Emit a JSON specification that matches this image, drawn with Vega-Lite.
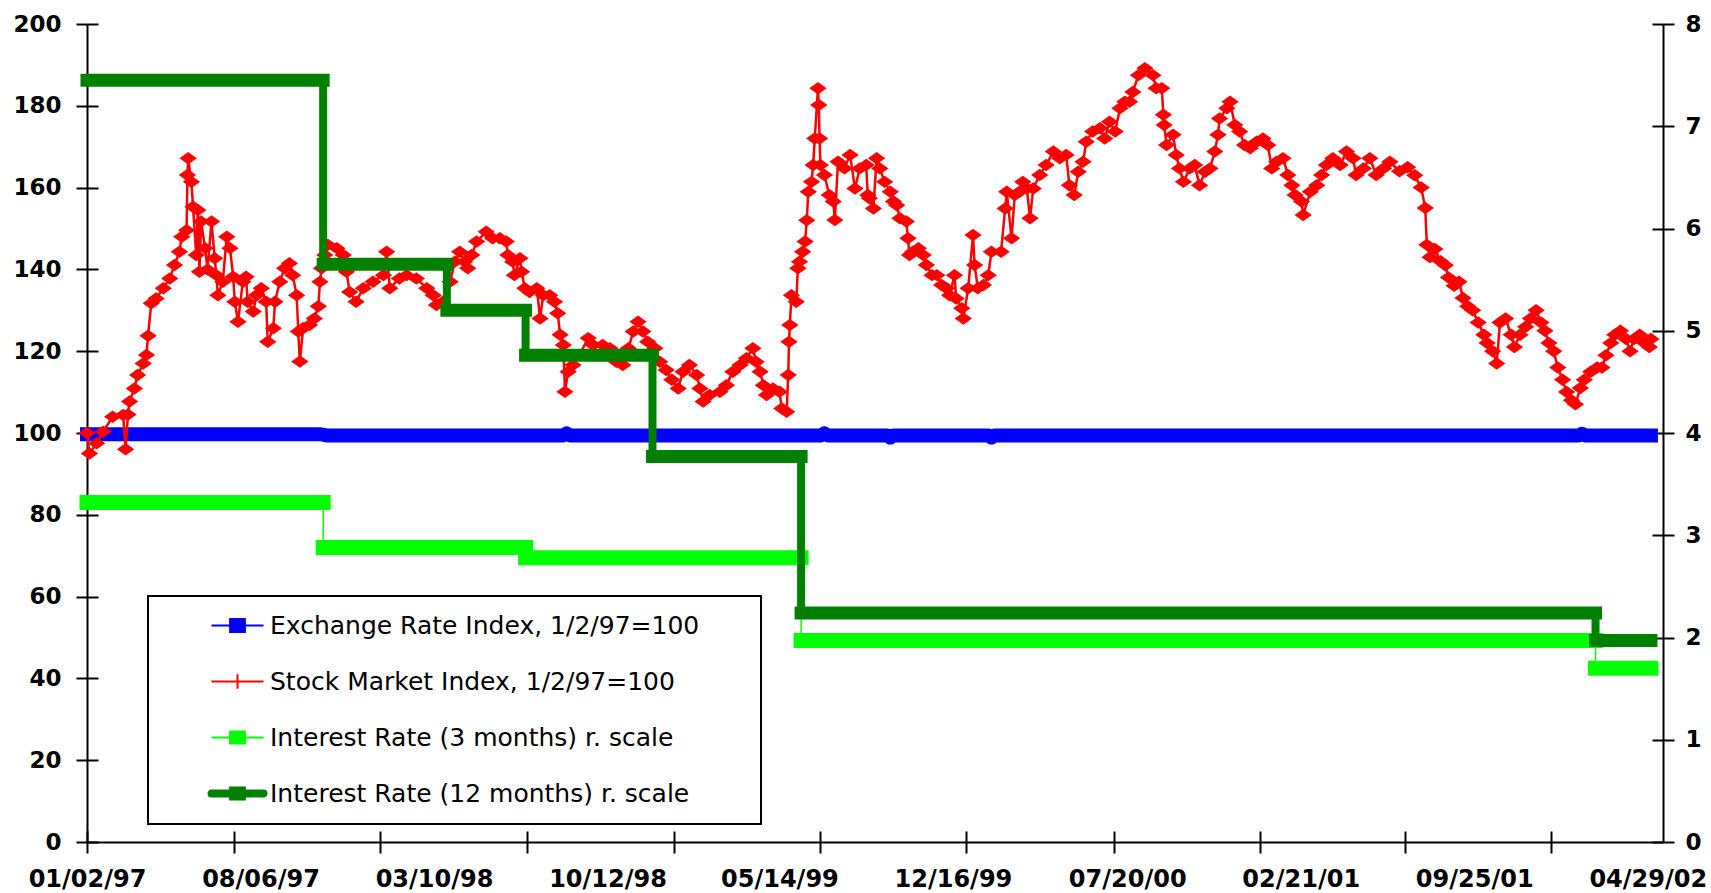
{
"$schema": "https://vega.github.io/schema/vega-lite/v6.json",
"width": 1576, "height": 818,
"autosize": {"type": "none"},
"padding": {"left": 87, "top": 24, "right": 48, "bottom": 51},
"background": "white",
"datasets": {
"fx": [{"date":"1997-01-02","value":99.7},{"date":"1997-10-20","value":99.7},{"date":"1997-10-27","value":99.4},{"date":"1998-08-18","value":99.4},{"date":"1998-08-22","value":99.9},{"date":"1998-08-26","value":99.4},{"date":"1999-07-05","value":99.4},{"date":"1999-07-09","value":99.9},{"date":"1999-07-13","value":99.4},{"date":"1999-09-25","value":99.4},{"date":"1999-09-29","value":98.9},{"date":"1999-10-03","value":99.4},{"date":"2000-01-29","value":99.4},{"date":"2000-02-02","value":98.9},{"date":"2000-02-06","value":99.4},{"date":"2002-02-02","value":99.4},{"date":"2002-02-06","value":99.8},{"date":"2002-02-10","value":99.4},{"date":"2002-05-03","value":99.4}],
"stock": [
{"date":"1997-01-02","value":100},{"date":"1997-01-05","value":95.0},{"date":"1997-01-14","value":97.5},{"date":"1997-01-22","value":100.3},{"date":"1997-02-03","value":104.0},{"date":"1997-02-16","value":104.4},{"date":"1997-02-19","value":96.0},{"date":"1997-02-22","value":104.5},{"date":"1997-02-24","value":107.7},{"date":"1997-03-02","value":110.9},{"date":"1997-03-06","value":114.2},{"date":"1997-03-13","value":117.0},{"date":"1997-03-17","value":119.1},{"date":"1997-03-19","value":123.8},{"date":"1997-03-23","value":131.7},{"date":"1997-03-29","value":132.9},{"date":"1997-04-07","value":135.4},{"date":"1997-04-15","value":137.8},{"date":"1997-04-21","value":141.1},{"date":"1997-04-27","value":144.3},{"date":"1997-04-30","value":148.0},{"date":"1997-05-06","value":149.6},{"date":"1997-05-07","value":163.1},{"date":"1997-05-08","value":167.2},{"date":"1997-05-12","value":161.4},{"date":"1997-05-14","value":155.3},{"date":"1997-05-18","value":143.5},{"date":"1997-05-20","value":154.5},{"date":"1997-05-22","value":139.4},{"date":"1997-05-24","value":151.7},{"date":"1997-05-29","value":145.2},{"date":"1997-06-01","value":140.0},{"date":"1997-06-06","value":151.7},{"date":"1997-06-10","value":142.7},{"date":"1997-06-12","value":138.6},{"date":"1997-06-14","value":133.7},{"date":"1997-06-20","value":137.0},{"date":"1997-06-25","value":148.0},{"date":"1997-06-29","value":145.2},{"date":"1997-07-03","value":138.2},{"date":"1997-07-05","value":132.1},{"date":"1997-07-09","value":127.2},{"date":"1997-07-15","value":137.0},{"date":"1997-07-19","value":138.2},{"date":"1997-07-21","value":132.1},{"date":"1997-07-28","value":129.7},{"date":"1997-08-01","value":133.7},{"date":"1997-08-07","value":135.4},{"date":"1997-08-13","value":132.1},{"date":"1997-08-15","value":122.3},{"date":"1997-08-22","value":125.6},{"date":"1997-08-24","value":132.1},{"date":"1997-08-30","value":137.0},{"date":"1997-09-05","value":140.3},{"date":"1997-09-11","value":141.5},{"date":"1997-09-15","value":138.6},{"date":"1997-09-20","value":133.7},{"date":"1997-09-22","value":124.8},{"date":"1997-09-24","value":117.5},{"date":"1997-09-28","value":125.6},{"date":"1997-10-06","value":126.4},{"date":"1997-10-12","value":128.0},{"date":"1997-10-17","value":131.0},{"date":"1997-10-19","value":137.0},{"date":"1997-10-21","value":140.3},{"date":"1997-10-25","value":143.5},{"date":"1997-10-29","value":146.0},{"date":"1997-11-09","value":145.2},{"date":"1997-11-17","value":143.5},{"date":"1997-11-21","value":139.4},{"date":"1997-11-25","value":134.5},{"date":"1997-12-03","value":132.1},{"date":"1997-12-12","value":135.4},{"date":"1997-12-24","value":137.0},
{"date":"1998-01-06","value":138.6},{"date":"1998-01-10","value":144.3},{"date":"1998-01-14","value":135.4},{"date":"1998-01-26","value":137.8},{"date":"1998-02-04","value":138.6},{"date":"1998-02-16","value":137.8},{"date":"1998-03-01","value":135.4},{"date":"1998-03-09","value":133.7},{"date":"1998-03-13","value":131.3},{"date":"1998-03-21","value":132.1},{"date":"1998-03-30","value":137.0},{"date":"1998-04-05","value":141.9},{"date":"1998-04-11","value":144.3},{"date":"1998-04-17","value":141.9},{"date":"1998-04-21","value":140.3},{"date":"1998-04-26","value":143.5},{"date":"1998-05-02","value":146.8},{"date":"1998-05-14","value":149.2},{"date":"1998-05-22","value":147.6},{"date":"1998-05-31","value":147.6},{"date":"1998-06-08","value":146.8},{"date":"1998-06-10","value":143.5},{"date":"1998-06-16","value":141.9},{"date":"1998-06-18","value":138.6},{"date":"1998-06-25","value":142.7},{"date":"1998-06-27","value":139.4},{"date":"1998-07-01","value":135.4},{"date":"1998-07-07","value":134.5},{"date":"1998-07-16","value":135.4},{"date":"1998-07-20","value":128.0},{"date":"1998-07-24","value":133.7},{"date":"1998-08-01","value":133.7},{"date":"1998-08-07","value":132.1},{"date":"1998-08-11","value":129.3},{"date":"1998-08-14","value":124.0},{"date":"1998-08-18","value":121.5},{"date":"1998-08-20","value":110.1},{"date":"1998-08-24","value":115.0},{"date":"1998-08-30","value":116.6},{"date":"1998-09-07","value":119.1},{"date":"1998-09-18","value":123.2},{"date":"1998-09-24","value":121.5},{"date":"1998-10-06","value":121.5},{"date":"1998-10-15","value":120.7},{"date":"1998-10-23","value":117.4},{"date":"1998-10-31","value":116.6},{"date":"1998-11-07","value":120.7},{"date":"1998-11-13","value":124.8},{"date":"1998-11-19","value":127.2},{"date":"1998-11-25","value":124.8},{"date":"1998-12-01","value":122.3},{"date":"1998-12-10","value":120.7},{"date":"1998-12-16","value":117.4},{"date":"1998-12-24","value":115.4},{"date":"1998-12-31","value":113.0},
{"date":"1999-01-08","value":110.9},{"date":"1999-01-14","value":115.0},{"date":"1999-01-22","value":116.6},{"date":"1999-01-31","value":114.2},{"date":"1999-02-04","value":110.9},{"date":"1999-02-08","value":107.7},{"date":"1999-02-16","value":109.3},{"date":"1999-03-01","value":110.1},{"date":"1999-03-09","value":111.7},{"date":"1999-03-17","value":115.0},{"date":"1999-03-26","value":116.6},{"date":"1999-04-03","value":118.3},{"date":"1999-04-11","value":120.7},{"date":"1999-04-15","value":117.4},{"date":"1999-04-20","value":115.0},{"date":"1999-04-24","value":111.7},{"date":"1999-04-28","value":109.3},{"date":"1999-05-06","value":110.9},{"date":"1999-05-14","value":110.1},{"date":"1999-05-17","value":106.0},{"date":"1999-05-23","value":105.2},{"date":"1999-05-25","value":114.2},{"date":"1999-05-26","value":122.3},{"date":"1999-05-27","value":126.4},{"date":"1999-05-29","value":133.7},{"date":"1999-06-04","value":132.1},{"date":"1999-06-06","value":140.3},{"date":"1999-06-08","value":141.9},{"date":"1999-06-12","value":144.3},{"date":"1999-06-15","value":146.8},{"date":"1999-06-17","value":152.0},{"date":"1999-06-19","value":159.0},{"date":"1999-06-23","value":161.4},{"date":"1999-06-25","value":165.5},{"date":"1999-06-27","value":172.0},{"date":"1999-07-01","value":184.3},{"date":"1999-07-02","value":180.2},{"date":"1999-07-03","value":172.0},{"date":"1999-07-04","value":165.5},{"date":"1999-07-09","value":163.1},{"date":"1999-07-15","value":158.2},{"date":"1999-07-20","value":156.6},{"date":"1999-07-22","value":152.1},{"date":"1999-07-26","value":166.3},{"date":"1999-08-03","value":164.7},{"date":"1999-08-10","value":168.0},{"date":"1999-08-16","value":159.8},{"date":"1999-08-22","value":164.7},{"date":"1999-08-30","value":165.5},{"date":"1999-09-01","value":158.2},{"date":"1999-09-03","value":157.4},{"date":"1999-09-08","value":154.9},{"date":"1999-09-12","value":167.2},{"date":"1999-09-16","value":164.7},{"date":"1999-09-22","value":161.4},{"date":"1999-09-29","value":159.0},{"date":"1999-10-03","value":156.6},{"date":"1999-10-07","value":155.7},{"date":"1999-10-11","value":152.5},{"date":"1999-10-19","value":151.7},{"date":"1999-10-21","value":147.6},{"date":"1999-10-23","value":143.5},{"date":"1999-10-27","value":144.3},{"date":"1999-11-03","value":145.2},{"date":"1999-11-09","value":143.5},{"date":"1999-11-13","value":141.1},{"date":"1999-11-20","value":138.6},{"date":"1999-11-26","value":138.6},{"date":"1999-12-02","value":136.2},{"date":"1999-12-08","value":135.4},{"date":"1999-12-12","value":133.7},{"date":"1999-12-18","value":138.6},{"date":"1999-12-20","value":132.9},{"date":"1999-12-27","value":130.5},{"date":"1999-12-29","value":128.0},
{"date":"2000-01-04","value":135.4},{"date":"2000-01-10","value":148.4},{"date":"2000-01-12","value":141.1},{"date":"2000-01-16","value":135.4},{"date":"2000-01-23","value":136.2},{"date":"2000-01-29","value":138.6},{"date":"2000-02-02","value":144.3},{"date":"2000-02-14","value":144.3},{"date":"2000-02-19","value":154.9},{"date":"2000-02-21","value":159.0},{"date":"2000-02-27","value":147.6},{"date":"2000-03-02","value":158.2},{"date":"2000-03-08","value":159.0},{"date":"2000-03-12","value":161.4},{"date":"2000-03-17","value":159.8},{"date":"2000-03-21","value":152.5},{"date":"2000-03-25","value":159.8},{"date":"2000-04-02","value":163.1},{"date":"2000-04-10","value":165.5},{"date":"2000-04-19","value":168.8},{"date":"2000-04-27","value":167.2},{"date":"2000-05-05","value":168.0},{"date":"2000-05-09","value":160.6},{"date":"2000-05-15","value":158.2},{"date":"2000-05-20","value":163.9},{"date":"2000-05-26","value":166.3},{"date":"2000-05-30","value":171.2},{"date":"2000-06-07","value":173.7},{"date":"2000-06-16","value":174.5},{"date":"2000-06-22","value":172.0},{"date":"2000-06-28","value":176.1},{"date":"2000-07-05","value":173.7},{"date":"2000-07-11","value":179.4},{"date":"2000-07-17","value":181.0},{"date":"2000-07-23","value":181.0},{"date":"2000-07-27","value":183.4},{"date":"2000-08-03","value":187.5},{"date":"2000-08-11","value":189.2},{"date":"2000-08-21","value":187.5},{"date":"2000-08-25","value":184.3},{"date":"2000-09-01","value":184.3},{"date":"2000-09-03","value":177.8},{"date":"2000-09-04","value":175.3},{"date":"2000-09-07","value":170.4},{"date":"2000-09-15","value":172.9},{"date":"2000-09-19","value":168.0},{"date":"2000-09-23","value":164.7},{"date":"2000-09-28","value":161.4},{"date":"2000-10-06","value":164.7},{"date":"2000-10-12","value":165.5},{"date":"2000-10-18","value":160.6},{"date":"2000-10-25","value":163.9},{"date":"2000-10-31","value":164.7},{"date":"2000-11-06","value":168.8},{"date":"2000-11-10","value":172.9},{"date":"2000-11-12","value":176.9},{"date":"2000-11-21","value":179.4},{"date":"2000-11-25","value":181.0},{"date":"2000-12-01","value":175.3},{"date":"2000-12-07","value":173.7},{"date":"2000-12-13","value":170.4},{"date":"2000-12-20","value":169.6},{"date":"2000-12-28","value":171.2},
{"date":"2001-01-05","value":172.0},{"date":"2001-01-11","value":170.4},{"date":"2001-01-16","value":164.7},{"date":"2001-01-22","value":166.3},{"date":"2001-01-30","value":167.2},{"date":"2001-02-05","value":163.1},{"date":"2001-02-10","value":160.6},{"date":"2001-02-14","value":158.2},{"date":"2001-02-22","value":156.6},{"date":"2001-02-24","value":153.3},{"date":"2001-03-05","value":159.0},{"date":"2001-03-13","value":160.6},{"date":"2001-03-19","value":163.1},{"date":"2001-03-25","value":165.5},{"date":"2001-04-02","value":167.2},{"date":"2001-04-11","value":165.5},{"date":"2001-04-19","value":168.8},{"date":"2001-04-27","value":167.2},{"date":"2001-05-01","value":163.1},{"date":"2001-05-10","value":164.7},{"date":"2001-05-18","value":167.2},{"date":"2001-05-26","value":163.1},{"date":"2001-06-04","value":164.7},{"date":"2001-06-12","value":166.3},{"date":"2001-06-24","value":164.0},{"date":"2001-07-04","value":165.0},{"date":"2001-07-13","value":163.0},{"date":"2001-07-21","value":160.0},{"date":"2001-07-26","value":155.0},{"date":"2001-07-28","value":146.0},{"date":"2001-08-01","value":143.0},{"date":"2001-08-07","value":145.0},{"date":"2001-08-14","value":142.0},{"date":"2001-08-20","value":141.0},{"date":"2001-08-24","value":138.0},{"date":"2001-08-31","value":136.0},{"date":"2001-09-06","value":137.0},{"date":"2001-09-11","value":133.0},{"date":"2001-09-17","value":131.0},{"date":"2001-09-23","value":130.0},{"date":"2001-09-30","value":127.0},{"date":"2001-10-07","value":124.0},{"date":"2001-10-11","value":122.0},{"date":"2001-10-18","value":120.0},{"date":"2001-10-23","value":117.0},{"date":"2001-10-27","value":127.0},{"date":"2001-11-03","value":128.0},{"date":"2001-11-10","value":124.0},{"date":"2001-11-14","value":121.0},{"date":"2001-11-21","value":124.0},{"date":"2001-11-28","value":126.0},{"date":"2001-12-04","value":128.0},{"date":"2001-12-11","value":130.0},{"date":"2001-12-17","value":127.0},{"date":"2001-12-22","value":125.0},{"date":"2001-12-27","value":122.0},
{"date":"2002-01-02","value":120.0},{"date":"2002-01-07","value":116.0},{"date":"2002-01-13","value":113.0},{"date":"2002-01-18","value":110.0},{"date":"2002-01-24","value":108.0},{"date":"2002-01-29","value":107.0},{"date":"2002-02-04","value":111.0},{"date":"2002-02-09","value":113.0},{"date":"2002-02-17","value":115.0},{"date":"2002-02-25","value":116.0},{"date":"2002-03-03","value":116.0},{"date":"2002-03-08","value":119.0},{"date":"2002-03-14","value":122.0},{"date":"2002-03-19","value":124.0},{"date":"2002-03-26","value":125.0},{"date":"2002-04-02","value":123.0},{"date":"2002-04-07","value":120.0},{"date":"2002-04-12","value":123.0},{"date":"2002-04-19","value":124.0},{"date":"2002-04-25","value":122.0},{"date":"2002-05-01","value":121.0},{"date":"2002-05-03","value":123.0}
],
"rates": [
{"series":"Interest Rate (3 months) r. scale","start":"1997-01-02","end":"1997-10-23","rate":3.32,"prev":null},
{"series":"Interest Rate (3 months) r. scale","start":"1997-10-23","end":"1998-07-02","rate":2.88,"prev":3.32},
{"series":"Interest Rate (3 months) r. scale","start":"1998-07-02","end":"1999-06-10","rate":2.78,"prev":2.88},
{"series":"Interest Rate (3 months) r. scale","start":"1999-06-10","end":"2002-02-23","rate":1.97,"prev":2.78},
{"series":"Interest Rate (3 months) r. scale","start":"2002-02-23","end":"2002-05-03","rate":1.70,"prev":1.97},
{"series":"Interest Rate (12 months) r. scale","start":"1997-01-02","end":"1997-10-23","rate":7.45,"prev":null},
{"series":"Interest Rate (12 months) r. scale","start":"1997-10-23","end":"1998-03-26","rate":5.65,"prev":7.45},
{"series":"Interest Rate (12 months) r. scale","start":"1998-03-26","end":"1998-07-02","rate":5.20,"prev":5.65},
{"series":"Interest Rate (12 months) r. scale","start":"1998-07-02","end":"1998-12-07","rate":4.76,"prev":5.20},
{"series":"Interest Rate (12 months) r. scale","start":"1998-12-07","end":"1999-06-10","rate":3.77,"prev":4.76},
{"series":"Interest Rate (12 months) r. scale","start":"1999-06-10","end":"2002-02-23","rate":2.24,"prev":3.77},
{"series":"Interest Rate (12 months) r. scale","start":"2002-02-23","end":"2002-05-03","rate":1.97,"prev":2.24}
]
},
"layer": [
{
"data": {"name": "fx"},
"mark": {"type": "line", "strokeWidth": 14, "strokeCap": "square", "strokeJoin": "round"},
"encoding": {
"x": {"field": "date", "type": "temporal", "scale": {"type": "utc", "nice": false, "domain": [{"year":1997,"month":1,"date":2,"utc":true},{"year":2002,"month":5,"date":18,"utc":true}]},
 "axis": {"orient": "bottom", "values": [{"year":1997,"month":1,"date":2,"utc":true},{"year":1997,"month":8,"date":6,"utc":true},{"year":1998,"month":3,"date":10,"utc":true},{"year":1998,"month":10,"date":12,"utc":true},{"year":1999,"month":5,"date":14,"utc":true},{"year":1999,"month":12,"date":16,"utc":true},{"year":2000,"month":7,"date":20,"utc":true},{"year":2001,"month":2,"date":21,"utc":true},{"year":2001,"month":9,"date":25,"utc":true},{"year":2002,"month":4,"date":29,"utc":true}],
  "domain": false, "tickOpacity": 0, "labelExpr": "utcFormat(datum.value, '%m/%d/%y')", "labelFontSize": 24, "labelPadding": 14}},
"y": {"field": "value", "type": "quantitative", "scale": {"domain": [0, 200], "nice": false, "zero": false},
 "axis": {"orient": "left", "values": [0,20,40,60,80,100,120,140,160,180,200], "labelPadding": 15}},
"color": {"datum": "Exchange Rate Index, 1/2/97=100",
 "scale": {"domain": ["Exchange Rate Index, 1/2/97=100","Stock Market Index, 1/2/97=100","Interest Rate (3 months) r. scale","Interest Rate (12 months) r. scale"], "range": ["#0000FF","#FF0000","#00FF00","#008000"]},
 "legend": {"orient": "none", "legendX": 61, "legendY": 572, "direction": "vertical", "title": null,
  "padding": 17, "rowPadding": 30, "symbolSize": 484, "symbolStrokeWidth": 2, "symbolOffset": 60, "labelOffset": 20,
  "labelFont": "DejaVu Sans", "labelFontSize": 25, "labelFontWeight": "normal", "labelColor": "#000", "labelLimit": 2000,
  "strokeColor": "#000", "fillColor": "#FFF",
  "labelExpr": "datum.label + '\u00a0\u00a0\u00a0\u00a0\u00a0\u2009\u200b'",
  "encode": {
   "legend": {"update": {"strokeWidth": {"value": 2}}},
   "symbols": {"update": {
    "shape": {"signal": "datum.value === 'Exchange Rate Index, 1/2/97=100' ? 'M-2.364,0H2.364M-0.673,-0.6H0.673V0.6H-0.673Z' : datum.value === 'Stock Market Index, 1/2/97=100' ? 'M-2.364,0H2.364M0,-0.65V0.65' : datum.value === 'Interest Rate (3 months) r. scale' ? 'M-2.364,0H2.364M-0.673,-0.536H0.673V0.536H-0.673Z' : 'M-2.364,-0.273H2.364A0.273,0.273,0,0,1,2.364,0.273H-2.364A0.273,0.273,0,0,1,-2.364,-0.273ZM-0.673,-0.536H0.673V0.536H-0.673Z'"},
    "fill": {"signal": "scale('color', datum.value)"},
    "stroke": {"signal": "scale('color', datum.value)"},
    "strokeWidth": {"value": 2},
    "opacity": {"value": 1}, "fillOpacity": {"value": 1}, "strokeOpacity": {"value": 1}
   }}
  }
 }
}
}
},
{
"data": {"name": "stock"},
"mark": {"type": "line", "strokeWidth": 2.5, "strokeJoin": "round"},
"encoding": {
"x": {"field": "date", "type": "temporal", "scale": {"type": "utc", "nice": false, "domain": [{"year":1997,"month":1,"date":2,"utc":true},{"year":2002,"month":5,"date":18,"utc":true}]},
 "axis": {"orient": "bottom", "labels": false, "values": [{"year":1997,"month":1,"date":2,"utc":true},{"year":1997,"month":7,"date":4,"utc":true},{"year":1998,"month":1,"date":2,"utc":true},{"year":1998,"month":7,"date":4,"utc":true},{"year":1999,"month":1,"date":3,"utc":true},{"year":1999,"month":7,"date":3,"utc":true},{"year":2000,"month":1,"date":1,"utc":true},{"year":2000,"month":7,"date":3,"utc":true},{"year":2001,"month":1,"date":1,"utc":true},{"year":2001,"month":7,"date":1,"utc":true},{"year":2001,"month":12,"date":30,"utc":true}]}},
"y": {"field": "value", "type": "quantitative", "scale": {"domain": [0, 200], "nice": false, "zero": false},
 "axis": {"orient": "left", "offset": -11, "domain": false, "labels": false, "values": [0,20,40,60,80,100,120,140,160,180,200]}},
"color": {"datum": "Stock Market Index, 1/2/97=100",
 "scale": {"domain": ["Exchange Rate Index, 1/2/97=100","Stock Market Index, 1/2/97=100","Interest Rate (3 months) r. scale","Interest Rate (12 months) r. scale"], "range": ["#0000FF","#FF0000","#00FF00","#008000"]}, "legend": null}
}
},
{
"data": {"name": "stock"},
"mark": {"type": "point", "shape": "M-1,0L0,-0.72L1,0L0,0.72Z", "size": 300, "filled": true, "opacity": 1},
"encoding": {
"x": {"field": "date", "type": "temporal", "scale": {"type": "utc", "nice": false, "domain": [{"year":1997,"month":1,"date":2,"utc":true},{"year":2002,"month":5,"date":18,"utc":true}]},
 "axis": {"orient": "bottom", "offset": -11, "domain": false, "labels": false, "values": [{"year":1997,"month":1,"date":2,"utc":true},{"year":1997,"month":7,"date":4,"utc":true},{"year":1998,"month":1,"date":2,"utc":true},{"year":1998,"month":7,"date":4,"utc":true},{"year":1999,"month":1,"date":3,"utc":true},{"year":1999,"month":7,"date":3,"utc":true},{"year":2000,"month":1,"date":1,"utc":true},{"year":2000,"month":7,"date":3,"utc":true},{"year":2001,"month":1,"date":1,"utc":true},{"year":2001,"month":7,"date":1,"utc":true},{"year":2001,"month":12,"date":30,"utc":true}]}},
"y": {"field": "value", "type": "quantitative", "scale": {"domain": [0, 200], "nice": false, "zero": false}, "axis": null},
"color": {"datum": "Stock Market Index, 1/2/97=100",
 "scale": {"domain": ["Exchange Rate Index, 1/2/97=100","Stock Market Index, 1/2/97=100","Interest Rate (3 months) r. scale","Interest Rate (12 months) r. scale"], "range": ["#0000FF","#FF0000","#00FF00","#008000"]}, "legend": null}
}
},
{
"data": {"name": "rates"},
"transform": [{"filter": "datum.series === 'Interest Rate (3 months) r. scale' && datum.prev != null"}],
"mark": {"type": "rule", "strokeWidth": 1.5},
"encoding": {
"x": {"field": "start", "type": "temporal", "scale": {"type": "utc", "nice": false, "domain": [{"year":1997,"month":1,"date":2,"utc":true},{"year":2002,"month":5,"date":18,"utc":true}]}, "axis": null},
"y": {"field": "prev", "type": "quantitative", "scale": {"domain": [0, 8], "nice": false, "zero": false},
 "axis": {"orient": "right", "values": [0,1,2,3,4,5,6,7,8], "labelPadding": 11}},
"y2": {"field": "rate"},
"color": {"field": "series", "type": "nominal",
 "scale": {"domain": ["Exchange Rate Index, 1/2/97=100","Stock Market Index, 1/2/97=100","Interest Rate (3 months) r. scale","Interest Rate (12 months) r. scale"], "range": ["#0000FF","#FF0000","#00FF00","#008000"]}, "legend": null}
}
},
{
"data": {"name": "rates"},
"transform": [{"filter": "datum.series === 'Interest Rate (3 months) r. scale'"}],
"mark": {"type": "rule", "strokeWidth": 15, "strokeCap": "square"},
"encoding": {
"x": {"field": "start", "type": "temporal", "scale": {"type": "utc", "nice": false, "domain": [{"year":1997,"month":1,"date":2,"utc":true},{"year":2002,"month":5,"date":18,"utc":true}]}, "axis": null},
"x2": {"field": "end"},
"y": {"field": "rate", "type": "quantitative", "scale": {"domain": [0, 8], "nice": false, "zero": false},
 "axis": {"orient": "right", "offset": -11, "domain": false, "labels": false, "values": [0,1,2,3,4,5,6,7,8]}},
"color": {"field": "series", "type": "nominal",
 "scale": {"domain": ["Exchange Rate Index, 1/2/97=100","Stock Market Index, 1/2/97=100","Interest Rate (3 months) r. scale","Interest Rate (12 months) r. scale"], "range": ["#0000FF","#FF0000","#00FF00","#008000"]}, "legend": null}
}
},
{
"data": {"name": "rates"},
"transform": [{"filter": "datum.series === 'Interest Rate (12 months) r. scale' && datum.prev != null"}],
"mark": {"type": "rule", "strokeWidth": 8},
"encoding": {
"x": {"field": "start", "type": "temporal", "scale": {"type": "utc", "nice": false, "domain": [{"year":1997,"month":1,"date":2,"utc":true},{"year":2002,"month":5,"date":18,"utc":true}]}, "axis": null},
"y": {"field": "prev", "type": "quantitative", "scale": {"domain": [0, 8], "nice": false, "zero": false}, "axis": null},
"y2": {"field": "rate"},
"color": {"field": "series", "type": "nominal",
 "scale": {"domain": ["Exchange Rate Index, 1/2/97=100","Stock Market Index, 1/2/97=100","Interest Rate (3 months) r. scale","Interest Rate (12 months) r. scale"], "range": ["#0000FF","#FF0000","#00FF00","#008000"]}, "legend": null}
}
},
{
"data": {"name": "rates"},
"transform": [{"filter": "datum.series === 'Interest Rate (12 months) r. scale'"}],
"mark": {"type": "rule", "strokeWidth": 13, "strokeCap": "square"},
"encoding": {
"x": {"field": "start", "type": "temporal", "scale": {"type": "utc", "nice": false, "domain": [{"year":1997,"month":1,"date":2,"utc":true},{"year":2002,"month":5,"date":18,"utc":true}]}, "axis": null},
"x2": {"field": "end"},
"y": {"field": "rate", "type": "quantitative", "scale": {"domain": [0, 8], "nice": false, "zero": false}, "axis": null},
"color": {"field": "series", "type": "nominal",
 "scale": {"domain": ["Exchange Rate Index, 1/2/97=100","Stock Market Index, 1/2/97=100","Interest Rate (3 months) r. scale","Interest Rate (12 months) r. scale"], "range": ["#0000FF","#FF0000","#00FF00","#008000"]}, "legend": null}
}
}
],
"resolve": {"scale": {"y": "independent"}, "axis": {"x": "independent", "y": "independent"}},
"config": {
"view": {"stroke": null},
"axis": {"grid": false, "title": null, "domainColor": "#000", "domainWidth": 2, "tickColor": "#000", "tickWidth": 2, "tickSize": 11,
 "labelFont": "DejaVu Sans", "labelFontWeight": "bold", "labelFontSize": 23, "labelColor": "#000",
 "labelOverlap": false, "labelFlush": false, "labelBound": false}
}
}
